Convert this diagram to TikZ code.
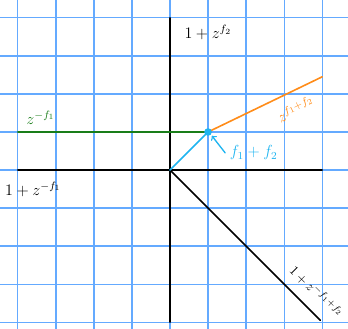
\documentclass[tikz,border=0pt]{standalone}
\usepackage{amsmath}

\definecolor{gridblue}{RGB}{100,170,255}
\definecolor{pathgreen}{RGB}{25,125,25}
\definecolor{pathorange}{RGB}{255,140,25}
\definecolor{pathcyan}{RGB}{30,180,240}

\tikzset{
  axisline/.style={line width=1.2pt, black},
  gridline/.style={line width=0.9pt, gridblue},
}

\begin{document}
\begin{tikzpicture}[font=\large, line cap=round]

  \useasboundingbox (-4.47,-4.18) rectangle (4.68,4.47);

  %% =================== GRID ====================
  \foreach \k in {-4,...,4} {
    \draw[gridline] (\k, -4.2) -- (\k, 4.5);
    \draw[gridline] (-4.5, \k) -- (4.7, \k);
  }

  %% =================== AXES ====================
  \coordinate (origin) at (0, 0);
  \draw[axisline] (-4, 0) -- (4, 0);
  \draw[axisline] (0, 4) -- (0, -4);
  \node (leftlabel) at (-3.6, -0.5) {$1+z^{-f_1}$};
  \node (toplabel) at (1.0, 3.62) {$1+z^{f_2}$};

  %% ================ PATHS FROM ORIGIN ================
  \coordinate (dot) at (1, 1);

  % green ray to the left
  \draw[pathgreen, line width=1.2pt] (-4, 1) -- (dot);
  \node[pathgreen] (greenlabel) at (-3.4, 1.38) {$z^{-f_1}$};

  % orange ray up right
  \coordinate (orangeend) at (4, 2.45);
  \draw[pathorange, line width=1.2pt] (dot) -- (orangeend);
  \node[pathorange, rotate=26] (orangelabel) at (3.3, 1.6) {$z^{f_1+f_2}$};

  % black diagonal
  \coordinate (diagend) at (3.95, -3.95);
  \draw[axisline] (origin) -- (diagend);
  \node[rotate=-45, font=\normalsize] (diaglabel) at (3.85, -3.2) {$1+z^{-f_1+f_2}$};

  % cyan segment and dot
  \draw[pathcyan, line width=1.2pt] (origin) -- (dot);
  \fill[pathcyan] (dot) circle (0.1);
  \node[pathcyan] (sumlabel) at (2.2, 0.45) {$f_1+f_2$};
  \draw[pathcyan, line width=1pt, ->] (sumlabel.west) -- ([shift={(0.1,-0.1)}]dot);

\end{tikzpicture}
\end{document}
